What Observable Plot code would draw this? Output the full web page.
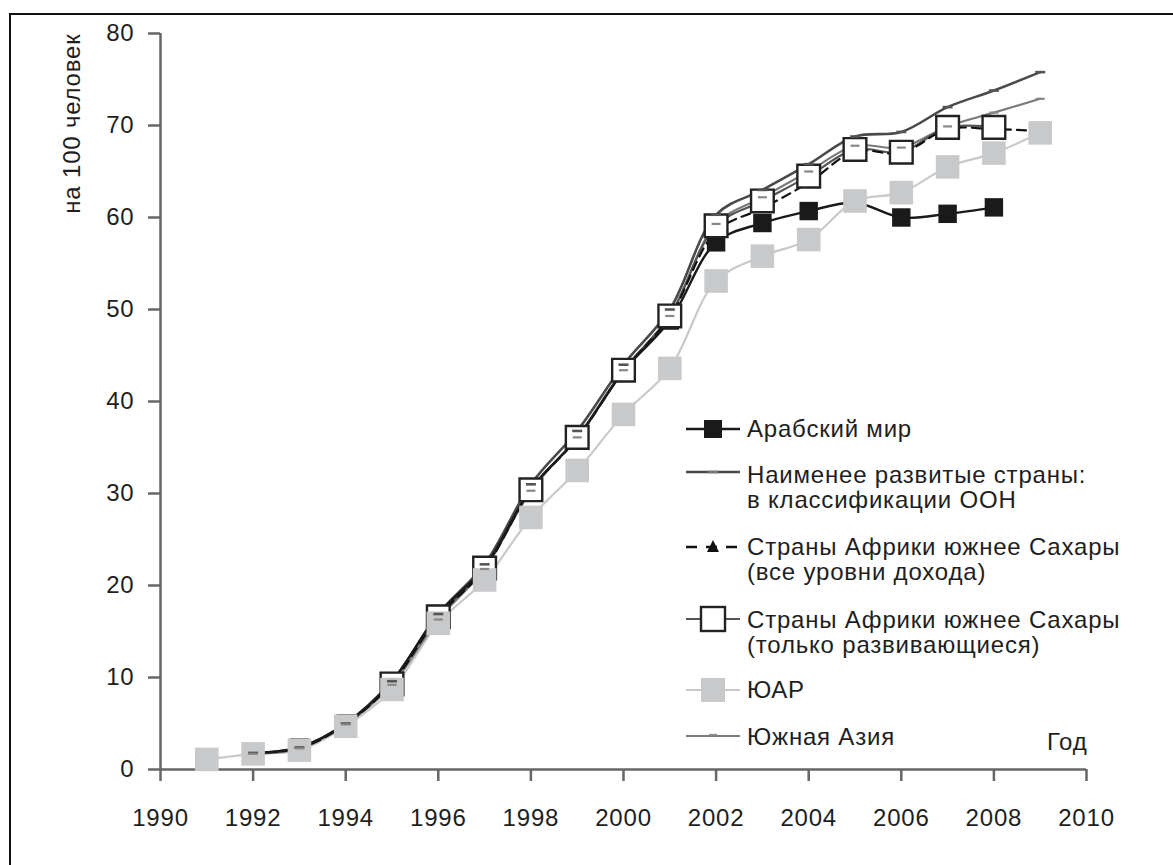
<!DOCTYPE html>
<html>
<head>
<meta charset="utf-8">
<script src="https://cdn.jsdelivr.net/npm/d3@7"></script>
<script src="https://cdn.jsdelivr.net/npm/@observablehq/plot@0.6"></script>
<style>
  html, body { margin: 0; padding: 0; background: #fff; }
  #wrap { position: relative; width: 1173px; height: 865px; overflow: hidden; background: #fff;
          font-family: "Liberation Sans", Arial, sans-serif; color: #1e1e1e; }
  #frame { position: absolute; left: 9px; top: 13px; width: 1300px; height: 1000px;
           border-left: 2px solid #111; border-top: 2px solid #111; box-sizing: border-box; }
  #chart { position: absolute; left: 0; top: 0; }
  .leg { position: absolute; left: 686px; font-size: 24px; letter-spacing: 0.8px; line-height: 25px; }
  .leg svg { position: absolute; left: 0; top: 0; overflow: visible; }
  .leg .t { position: absolute; left: 61px; top: 0; white-space: nowrap; }
</style>
</head>
<body>
<div id="wrap">
  <div id="frame"></div>
  <div id="chart"></div>
</div>
<script>
// ---- data ----
const years = [1991,1992,1993,1994,1995,1996,1997,1998,1999,2000,2001,2002,2003,2004,2005,2006,2007,2008,2009];
const arab      = [null,1.8,2.4,5.0,9.6,16.9,22.0,30.5,36.0,43.3,48.8,57.3,59.4,60.7,61.6,60.0,60.4,61.1,null];
const ldc       = [null,1.8,2.4,5.0,9.6,16.9,22.3,31.0,36.8,44.0,50.0,60.3,63.0,65.8,68.8,69.3,72.0,73.8,75.8];
const ssaAll    = [null,1.8,2.3,4.9,9.4,16.6,21.8,30.4,36.0,43.3,49.2,58.5,61.0,63.8,67.2,67.0,69.6,69.6,69.4];
const ssaDev    = [null,null,null,null,9.3,16.6,21.9,30.4,36.1,43.4,49.3,59.1,61.8,64.5,67.4,67.1,69.8,69.8,null];
const rsa       = [1.1,1.7,2.1,4.7,8.7,15.9,20.6,27.4,32.5,38.6,43.6,53.1,55.8,57.6,61.8,62.7,65.5,67.0,69.2];
const southAsia = [null,1.7,2.3,4.9,9.2,16.3,21.8,30.3,36.1,43.4,49.3,59.3,62.2,65.0,67.8,67.6,69.9,71.4,72.9];

const xTicks = [1990,1992,1994,1996,1998,2000,2002,2004,2006,2008,2010];
const yTicks = [0,10,20,30,40,50,60,70,80];
const yLabel = "на 100 человек";
const xLabel = "Год";

const names = {
  arab: "Арабский мир",
  ldc: ["Наименее развитые страны:", "в классификации ООН"],
  ssaAll: ["Страны Африки южнее Сахары", "(все уровни дохода)"],
  ssaDev: ["Страны Африки южнее Сахары", "(только развивающиеся)"],
  rsa: "ЮАР",
  southAsia: "Южная Азия"
};

// ---- build tables ----
const toRows = (vals) => years.map((year, i) => ({year, value: vals[i]})).filter(d => d.value != null);
const A = toRows(arab), L = toRows(ldc), SA = toRows(ssaAll), SD = toRows(ssaDev), R = toRows(rsa), S = toRows(southAsia);

const dash = { draw(ctx, size) { const r = Math.sqrt(size / Math.PI); ctx.moveTo(-r, 0); ctx.lineTo(r, 0); } };
const curve = "catmull-rom";

const chart = Plot.plot({
  width: 1173,
  height: 865,
  marginLeft: 160,
  marginRight: 87,
  marginTop: 33,
  marginBottom: 96,
  style: { fontFamily: "'Liberation Sans', Arial, sans-serif", fontSize: "24px", letterSpacing: "0.8px", color: "#1e1e1e", background: "transparent", overflow: "visible" },
  x: { domain: [1990, 2010], label: null },
  y: { domain: [0, 80], label: null },
  marks: [
    Plot.axisX({ ticks: xTicks, tickFormat: d => String(d), tickSize: 12, tickPadding: 27, stroke: "#666", strokeWidth: 2.5, fill: "#1e1e1e", label: null }),
    Plot.axisY({ ticks: yTicks, tickSize: 12, tickPadding: 14, stroke: "#666", strokeWidth: 2.5, fill: "#1e1e1e", label: null }),
    Plot.ruleY([0], { stroke: "#666", strokeWidth: 2.5 }),
    Plot.ruleX([1990], { stroke: "#666", strokeWidth: 2.5 }),
    // lines
    Plot.line(R, { x: "year", y: "value", stroke: "#c8c9cb", strokeWidth: 2.2, curve }),
    Plot.line(S, { x: "year", y: "value", stroke: "#7a7a7a", strokeWidth: 2.2, curve }),
    Plot.line(L, { x: "year", y: "value", stroke: "#4a4a4a", strokeWidth: 2.6, curve }),
    Plot.line(SD, { x: "year", y: "value", stroke: "#555", strokeWidth: 2.2, curve }),
    Plot.line(SA, { x: "year", y: "value", stroke: "#111", strokeWidth: 2.2, strokeDasharray: "9,6", curve }),
    Plot.line(A, { x: "year", y: "value", stroke: "#1a1a1a", strokeWidth: 2.4, curve }),
    // markers
    Plot.dot(A, { x: "year", y: "value", symbol: "square", r: 10.4, fill: "#1a1a1a" }),
    Plot.dot(SA, { x: "year", y: "value", symbol: "triangle", r: 4.5, fill: "#111" }),
    Plot.dot(SD, { x: "year", y: "value", symbol: "square", r: 12.8, fill: "#fff", stroke: "#222", strokeWidth: 2.4 }),
    Plot.dot(R, { x: "year", y: "value", symbol: "square", r: 13.3, fill: "#c8c9cb" }),
    Plot.dot(L, { x: "year", y: "value", symbol: dash, r: 5, stroke: "#555", strokeWidth: 2.6 }),
    Plot.dot(S, { x: "year", y: "value", symbol: dash, r: 4.5, stroke: "#888", strokeWidth: 2.2 }),
    // axis titles
    Plot.text([yLabel], { frameAnchor: "top-left", text: d => d, rotate: -90, textAnchor: "end", lineAnchor: "middle", dx: -88, fill: "#1e1e1e" }),
    Plot.text([xLabel], { frameAnchor: "bottom-right", text: d => d, textAnchor: "end", lineAnchor: "middle", dx: 1, dy: -27, fill: "#1e1e1e" })
  ]
});
document.getElementById("chart").appendChild(chart);

// ---- legend (HTML overlay) ----
const wrap = document.getElementById("wrap");
function legendRow(top, svgInner, lines) {
  const div = document.createElement("div");
  div.className = "leg";
  div.style.top = top + "px";
  const txt = Array.isArray(lines) ? lines : [lines];
  div.style.height = (txt.length * 25) + "px";
  div.style.width = "460px";
  div.innerHTML = `<svg width="56" height="25">${svgInner}</svg><div class="t">${txt.join("<br>")}</div>`;
  wrap.appendChild(div);
}
legendRow(416, `<line x1="0" x2="54" y1="13" y2="13" stroke="#1a1a1a" stroke-width="2.4"/><rect x="18" y="4" width="18" height="18" fill="#1a1a1a"/>`, names.arab);
legendRow(462, `<line x1="0" x2="54" y1="10" y2="10" stroke="#4a4a4a" stroke-width="2.6"/><line x1="22" x2="32" y1="10" y2="10" stroke="#777" stroke-width="2.6"/>`, names.ldc);
legendRow(534, `<line x1="0" x2="54" y1="13" y2="13" stroke="#111" stroke-width="2.4" stroke-dasharray="11,9"/><path d="M27,6 L33,18 L21,18 Z" fill="#111"/>`, names.ssaAll);
legendRow(607, `<line x1="0" x2="54" y1="12" y2="12" stroke="#555" stroke-width="2.2"/><rect x="15" y="0" width="24" height="24" fill="#fff" stroke="#222" stroke-width="2.4"/>`, names.ssaDev);
legendRow(677, `<line x1="0" x2="54" y1="13" y2="13" stroke="#c8c9cb" stroke-width="2.2"/><rect x="15" y="1" width="24" height="24" fill="#c8c9cb"/>`, names.rsa);
legendRow(724, `<line x1="0" x2="54" y1="12" y2="12" stroke="#7a7a7a" stroke-width="2.2"/><line x1="23" x2="31" y1="11" y2="11" stroke="#888" stroke-width="2.2"/>`, names.southAsia);
</script>
</body>
</html>
